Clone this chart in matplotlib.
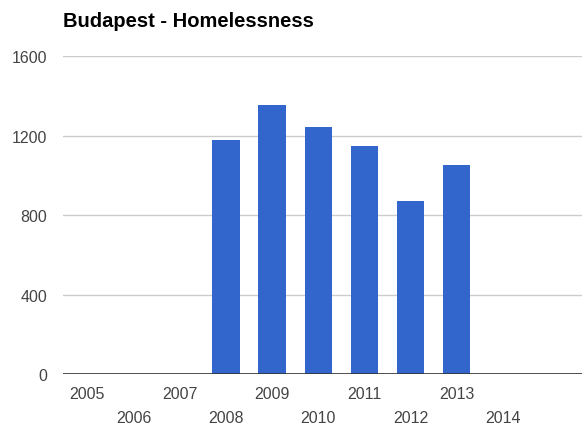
import matplotlib.pyplot as plt

# Budapest homelessness counts by year
years = [2008, 2009, 2010, 2011, 2012, 2013]
counts = [1180, 1356, 1244, 1147, 872, 1054]

tick_years = list(range(2005, 2015))
y_ticks = [0, 400, 800, 1200, 1600]

plt.rcParams['font.family'] = ['Liberation Sans', 'DejaVu Sans']

fig = plt.figure(figsize=(5.82, 4.31), dpi=100)
ax = fig.add_axes([63.3 / 582, 1 - 375.3 / 431, 1 - 63.3 / 582, (375.3 - 57.3) / 431])

ax.bar(years, counts, width=0.59, color='#3366cc', zorder=3)

ax.set_xlim(2004.48, 2015.71)
ax.set_ylim(0, 1600)

ax.set_yticks(y_ticks)
ax.set_yticklabels([str(v) for v in y_ticks])
ax.yaxis.grid(True, color='#cccccc', linewidth=1, zorder=0)
ax.axhline(0, color='#333333', linewidth=1.2, zorder=4)

# staggered year labels: odd positions on the top row, even ones below
ax.set_xticks(tick_years[::2])
ax.set_xticklabels([str(y) for y in tick_years[::2]])
ax.set_xticks(tick_years[1::2], minor=True)
ax.set_xticklabels([str(y) for y in tick_years[1::2]], minor=True)
ax.tick_params(axis='x', which='major', length=0, pad=8.5, labelsize=11.5, labelcolor='#444444')
ax.tick_params(axis='x', which='minor', length=0, pad=25.5, labelsize=11.5, labelcolor='#444444')
ax.tick_params(axis='y', length=0, pad=11.5, labelsize=11.5, labelcolor='#444444')

for side in ['top', 'right', 'left', 'bottom']:
    ax.spines[side].set_visible(False)

fig.text(63.3 / 582, 1 - 27.3 / 431, 'Budapest - Homelessness', fontsize=14.5,
         fontweight='bold', color='#000000', ha='left', va='baseline')

fig.savefig('out.png', dpi=100)
